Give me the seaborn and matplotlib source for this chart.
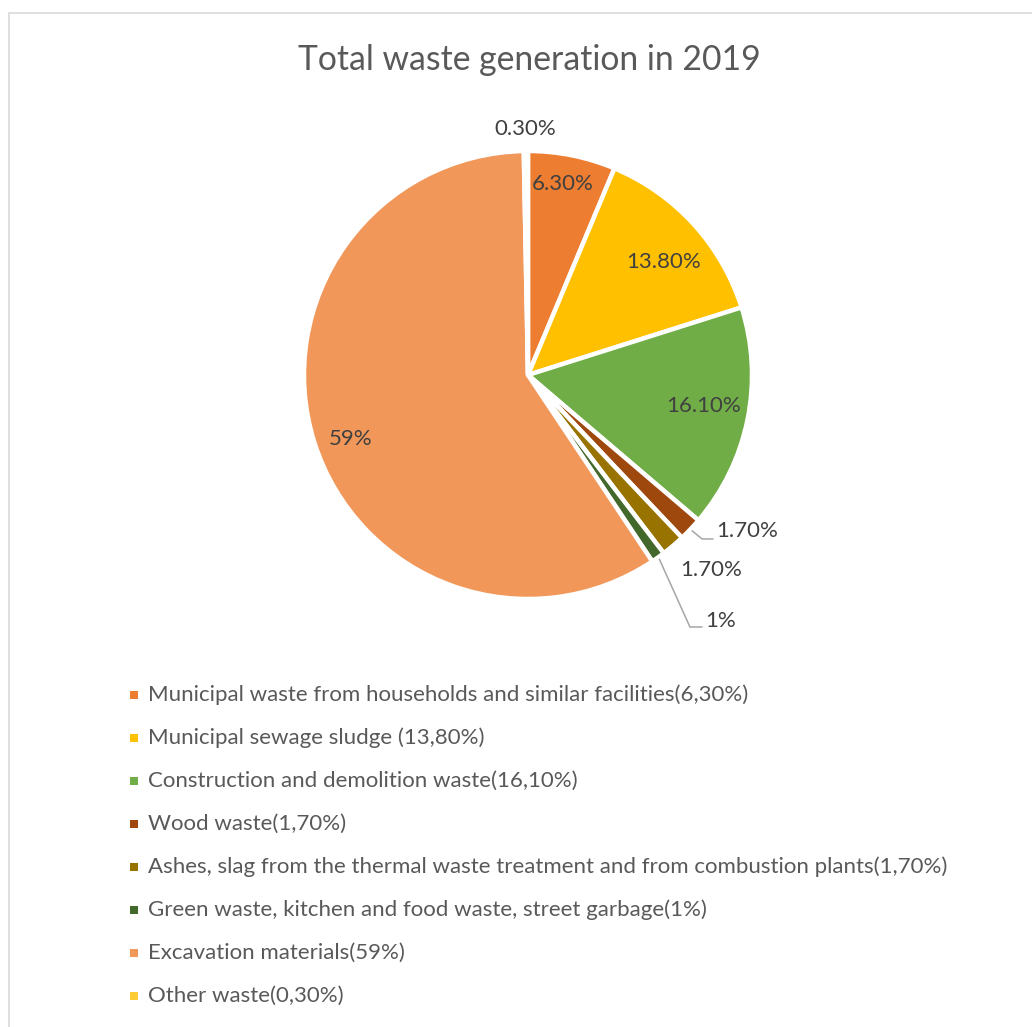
import numpy as np
import matplotlib
matplotlib.use("Agg")
import matplotlib.pyplot as plt
from matplotlib.patches import Rectangle
import seaborn as sns

sns.set_theme(style="white")
plt.rcParams["font.family"] = ["Lato", "DejaVu Sans"]

# Waste categories and their shares (%) for 2019
categories = [
    "Municipal waste from households and similar facilities(6,30%)",
    "Municipal sewage sludge (13,80%)",
    "Construction and demolition waste(16,10%)",
    "Wood waste(1,70%)",
    "Ashes, slag from the thermal waste treatment and from combustion plants(1,70%)",
    "Green waste, kitchen and food waste, street garbage(1%)",
    "Excavation materials(59%)",
    "Other waste(0,30%)",
]
shares = [6.3, 13.8, 16.1, 1.7, 1.7, 1.0, 59.0, 0.3]
value_labels = ["6.30%", "13.80%", "16.10%", "1.70%", "1.70%", "1%", "59%", "0.30%"]
colors = ["#ED7D31", "#FFC000", "#70AD47", "#9E480E", "#997300", "#43682B",
          "#F1975A", "#FFCD33"]

W, H, DPI = 1032, 1027, 100
fig = plt.figure(figsize=(W / DPI, H / DPI), dpi=DPI)
fig.patch.set_facecolor("white")

# chart frame
fig.add_artist(Rectangle((9 / W, -0.05), 1.1, 1 - 13 / H + 0.05,
                         transform=fig.transFigure, fill=False,
                         edgecolor="#d9d9d9", linewidth=1.2))

# pie axes: radius 1 -> 224 px, centre at (528, 375) px
R = 224
cx, cy = 528, 375
ax = fig.add_axes([(cx - 1.5 * R) / W, (H - cy - 1.5 * R) / H, 3 * R / W, 3 * R / H])

wedges, _ = ax.pie(shares, colors=colors, startangle=90, counterclock=False,
                   radius=1.0, wedgeprops=dict(edgecolor="white", linewidth=3.2))
ax.set_xlim(-1.5, 1.5)
ax.set_ylim(-1.5, 1.5)
ax.set_aspect("equal")
ax.axis("off")

total = sum(shares)
cum = np.cumsum([0] + shares[:-1])
mid_deg = 90 - (cum + np.array(shares) / 2) / total * 360

label_color = "#404040"
fs_val = 16

# labels inside the large slices: (radius, angular nudge in degrees)
inside = {0: (0.866, 1.2), 1: (0.786, -2.6), 2: (0.797, 1.6), 6: (0.842, 2.6)}
for i, (r, nudge) in inside.items():
    a = np.radians(mid_deg[i] + nudge)
    ax.text(r * np.cos(a), r * np.sin(a), value_labels[i],
            ha="center", va="center", fontsize=fs_val, color=label_color)

# labels outside the small slices
a7 = np.radians(mid_deg[7])
ax.text(1.10 * np.cos(a7), 1.10 * np.sin(a7), value_labels[7],
        ha="center", va="center", fontsize=fs_val, color=label_color)
ax.text(0.680, -0.871, value_labels[4], ha="left", va="center",
        fontsize=fs_val, color=label_color)

leader = "#a6a6a6"
# wood waste
a3 = np.radians(mid_deg[3])
ax.plot([1.01 * np.cos(a3), 0.777, 0.826], [1.01 * np.sin(a3), -0.732, -0.732],
        color=leader, lw=1.1)
ax.text(0.838, -0.696, value_labels[3], ha="left", va="center",
        fontsize=fs_val, color=label_color)
# green waste
a5 = np.radians(mid_deg[5])
ax.plot([1.01 * np.cos(a5), 0.723, 0.777], [1.01 * np.sin(a5), -1.125, -1.125],
        color=leader, lw=1.1)
ax.text(0.79, -1.098, value_labels[5], ha="left", va="center",
        fontsize=fs_val, color=label_color)

# title
fig.text(529 / W, 1 - 60 / H, "Total waste generation in 2019", ha="center",
         va="center", fontsize=24.3, color="#595959")

# legend
row0, step = 695, 43
for i, (lab, col) in enumerate(zip(categories, colors)):
    y = row0 + i * step
    fig.add_artist(Rectangle((130 / W, 1 - (y + 4) / H), 8 / W, 8 / H,
                             transform=fig.transFigure, facecolor=col,
                             edgecolor="none"))
    fig.text(148 / W, 1 - y / H, lab, ha="left", va="center",
             fontsize=16, color="#595959")

fig.savefig("out.png", dpi=DPI, facecolor="white")
